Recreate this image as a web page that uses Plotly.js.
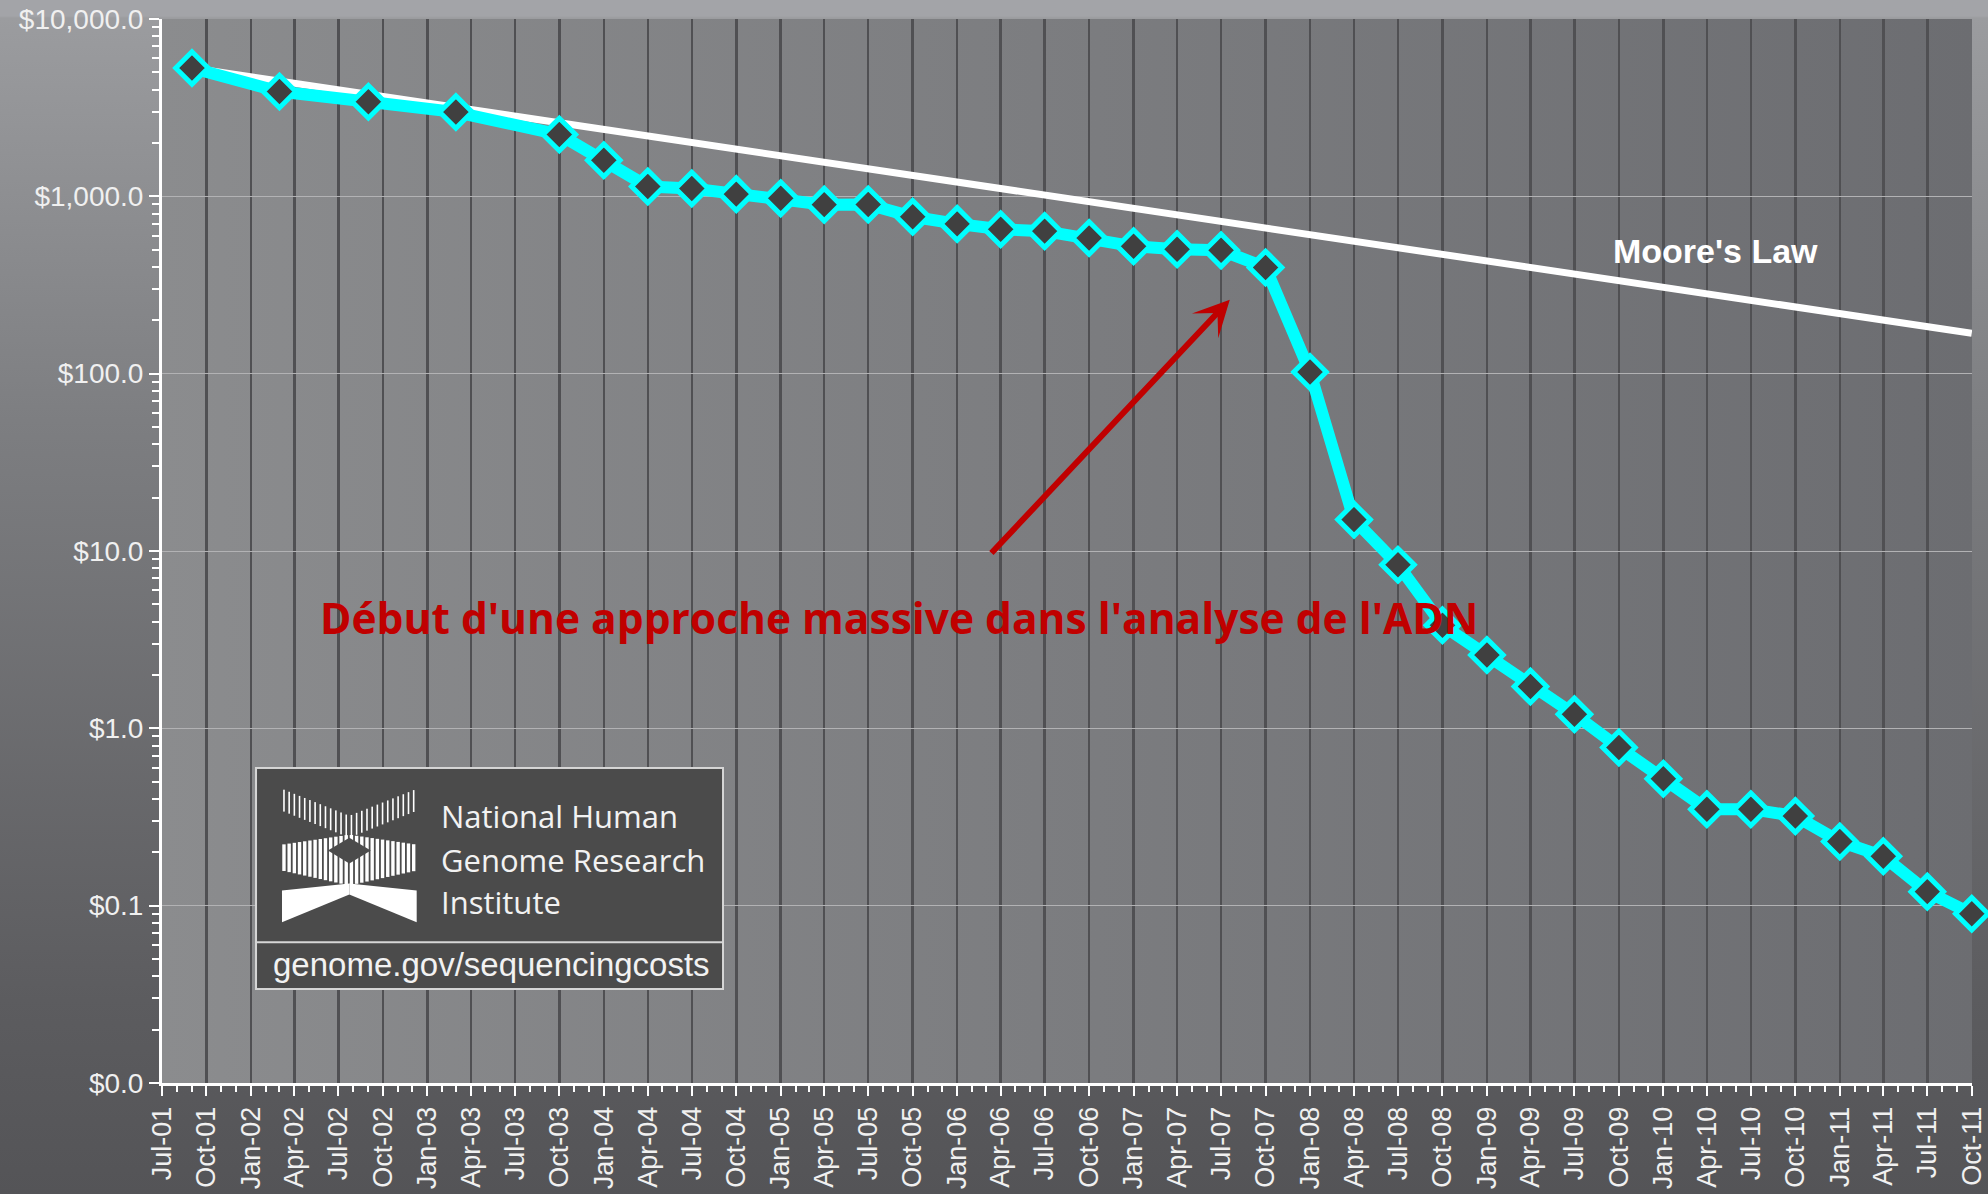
<!DOCTYPE html>
<html>
<head>
<meta charset="utf-8">
<script src="https://cdn.plot.ly/plotly-3.0.1.min.js"></script>
<style>
  html, body { margin: 0; padding: 0; }
  body {
    width: 1988px; height: 1194px; overflow: hidden;
    background: linear-gradient(180deg, #a3a4a8 0px, #a3a4a8 16px, #9b9c9f 18px, #7d7e81 420px, #5c5c5f 1000px, #545457 1194px);
  }
  #chart { width: 1988px; height: 1194px; }
</style>
</head>
<body>
<div id="chart"></div>
<script>
// ---- data ----
const dates = [
  '2001-09-01','2002-03-01','2002-09-01','2003-03-01','2003-10-01',
  '2004-01-01','2004-04-01','2004-07-01','2004-10-01',
  '2005-01-01','2005-04-01','2005-07-01','2005-10-01',
  '2006-01-01','2006-04-01','2006-07-01','2006-10-01',
  '2007-01-01','2007-04-01','2007-07-01','2007-10-01',
  '2008-01-01','2008-04-01','2008-07-01','2008-10-01',
  '2009-01-01','2009-04-01','2009-07-01','2009-10-01',
  '2010-01-01','2010-04-01','2010-07-01','2010-10-01',
  '2011-01-01','2011-04-01','2011-07-01','2011-10-01'
];
const costPerMb = [
  5292.39, 3898.64, 3413.80, 2986.20, 2230.98,
  1598.91, 1135.70, 1107.46, 1028.85,
  974.16, 897.76, 898.90, 766.73,
  699.20, 651.81, 636.41, 581.92,
  522.71, 502.61, 495.96, 397.09,
  102.13, 15.03, 8.36, 3.81,
  2.59, 1.72, 1.20, 0.78,
  0.52, 0.35, 0.35, 0.32,
  0.23, 0.19, 0.12, 0.09
];
const mooreDates = ['2001-09-01', '2011-10-01'];
const mooreValues = [5292.39, 169];

const yTickVals = [0.01, 0.1, 1, 10, 100, 1000, 10000];
const yTickText = ['$0.0', '$0.1', '$1.0', '$10.0', '$100.0', '$1,000.0', '$10,000.0'];

const annotationText = "Début d'une approche massive dans l'analyse de l'ADN";
const mooreLabel = "Moore's Law";
const logoLines = ['National Human', 'Genome Research', 'Institute'];
const logoUrl = 'genome.gov/sequencingcosts';

// ---- helpers (decoration only) ----
function svgURI(svg) { return 'data:image/svg+xml;charset=utf-8,' + encodeURIComponent(svg); }

const plotBg = svgURI(
  "<svg xmlns='http://www.w3.org/2000/svg' width='1810' height='1064' viewBox='0 0 1810 1064' preserveAspectRatio='none'>" +
  "<defs><linearGradient id='g' x1='0' x2='1' y1='0' y2='0'>" +
  "<stop offset='0' stop-color='#8b8c8e'/><stop offset='1' stop-color='#6c6d71'/></linearGradient></defs>" +
  "<rect x='0' y='0' width='1810' height='1064' fill='url(#g)'/></svg>");

function buildLogoBox() {
  // box 470 x 224 px, logo graphic 135 x 134 placed at (27, 22)
  let s = "<svg xmlns='http://www.w3.org/2000/svg' width='470' height='224' viewBox='0 0 470 224' preserveAspectRatio='none'>";
  s += "<rect x='1' y='1' width='468' height='222' fill='#4b4b4b' stroke='#d6d6d6' stroke-width='2'/>";
  s += "<line x1='1' x2='469' y1='176' y2='176' stroke='#d6d6d6' stroke-width='2'/>";
  s += "<g transform='translate(27,22)'>";
  for (let i = 0; i < 26; i++) {
    const x = 2 + i * 5.2;
    const d = Math.abs(x - 67.5) / 67.5;
    const t1 = 27 * (1 - d), b1 = t1 + 22;
    s += "<rect x='" + (x - 0.8).toFixed(2) + "' y='" + t1.toFixed(2) + "' width='1.6' height='" + (b1 - t1).toFixed(2) + "' fill='white'/>";
    const t2 = 56 - 10 * (1 - d), b2 = 82 + 15 * (1 - d);
    s += "<rect x='" + (x - 1.7).toFixed(2) + "' y='" + t2.toFixed(2) + "' width='3.4' height='" + (b2 - t2).toFixed(2) + "' fill='white'/>";
  }
  s += "<polygon points='46,62 67.5,49 89,62 67.5,75' fill='#4b4b4b'/>";
  s += "<polygon points='0,102 67.5,95 67.5,106 0,134' fill='white'/>";
  s += "<polygon points='135,102 67.5,95 67.5,106 135,134' fill='white'/>";
  s += "</g></svg>";
  return svgURI(s);
}

// minor log ticks (axis decoration)
const yMinor = [];
for (let e = -2; e < 4; e++) for (let m = 2; m <= 9; m++) yMinor.push(m * Math.pow(10, e));

const traces = [
  {
    x: mooreDates, y: mooreValues, type: 'scatter', mode: 'lines',
    line: { color: '#ffffff', width: 7 }, hoverinfo: 'skip', showlegend: false
  },
  {
    x: dates, y: costPerMb, type: 'scatter', mode: 'lines+markers',
    line: { color: '#00ffff', width: 12 },
    marker: { symbol: 'diamond', size: 25, color: '#404040', line: { color: '#00ffff', width: 5 } },
    cliponaxis: false, showlegend: false
  }
];

const axisFont = { family: 'Liberation Sans, Arial, sans-serif', color: '#f0f0f0' };

const layout = {
  width: 1988, height: 1194,
  margin: { l: 162, r: 16, t: 19, b: 111 },
  paper_bgcolor: 'rgba(0,0,0,0)',
  plot_bgcolor: 'rgba(0,0,0,0)',
  showlegend: false,
  xaxis: {
    type: 'date',
    range: ['2001-07-01', '2011-10-01 12:00'],
    tick0: '2001-07-01', dtick: 'M3', tickformat: '%b-%y', tickangle: -90,
    ticks: 'outside', ticklen: 10, tickwidth: 2, tickcolor: '#ffffff',
    showline: true, linecolor: '#ffffff', linewidth: 3,
    showgrid: true, gridcolor: '#505053', gridwidth: 2.5,
    zeroline: false,
    tickfont: Object.assign({ size: 27 }, axisFont),
    minor: { dtick: 'M1', tick0: '2001-07-01', ticks: 'outside', ticklen: 6, tickwidth: 2, tickcolor: '#ffffff', showgrid: false }
  },
  yaxis: {
    type: 'log', range: [-2, 4],
    tickmode: 'array', tickvals: yTickVals, ticktext: yTickText,
    ticks: 'outside', ticklen: 10, tickwidth: 2, tickcolor: '#ffffff',
    showline: true, linecolor: '#ffffff', linewidth: 3,
    showgrid: true, gridcolor: '#b2b2b4', gridwidth: 1,
    zeroline: false,
    tickfont: Object.assign({ size: 28 }, axisFont),
    minor: { tickmode: 'array', tickvals: yMinor, ticks: 'outside', ticklen: 7, tickwidth: 2, tickcolor: '#ffffff', showgrid: false }
  },
  images: [
    { source: plotBg, xref: 'paper', yref: 'paper', x: 0, y: 1, sizex: 1, sizey: 1,
      sizing: 'stretch', xanchor: 'left', yanchor: 'top', layer: 'below' },
    { source: buildLogoBox(), xref: 'paper', yref: 'paper', x: 0.0514, y: 0.2970, sizex: 0.2591, sizey: 0.2096,
      sizing: 'stretch', xanchor: 'left', yanchor: 'top', layer: 'above' }
  ],
  annotations: [
    { text: '', showarrow: true, xref: 'x', yref: 'y', axref: 'x', ayref: 'y',
      x: '2007-07-19', y: 2.417, ax: '2006-03-10', ay: 0.98,
      arrowhead: 3, arrowsize: 1, arrowwidth: 6, arrowcolor: '#c00000' },
    { text: '<b>' + annotationText + '</b>', showarrow: false, xref: 'paper', yref: 'paper',
      x: 0.0862, y: 0.4375, xanchor: 'left', yanchor: 'middle',
      font: { family: 'Open Sans, Noto Sans, sans-serif', size: 42.5, color: '#c00000' } },
    { text: '<b>' + mooreLabel + '</b>', showarrow: false, xref: 'paper', yref: 'paper',
      x: 0.8006, y: 0.7824, xanchor: 'left', yanchor: 'middle',
      font: { family: 'Liberation Sans, Arial, sans-serif', size: 34, color: '#ffffff' } },
    { text: logoLines[0], showarrow: false, xref: 'paper', yref: 'paper', x: 0.1530, y: 0.2510,
      xanchor: 'left', yanchor: 'middle', font: { family: 'Open Sans, sans-serif', size: 31, color: '#f2f2f2' } },
    { text: logoLines[1], showarrow: false, xref: 'paper', yref: 'paper', x: 0.1530, y: 0.2096,
      xanchor: 'left', yanchor: 'middle', font: { family: 'Open Sans, sans-serif', size: 31, color: '#f2f2f2' } },
    { text: logoLines[2], showarrow: false, xref: 'paper', yref: 'paper', x: 0.1530, y: 0.1701,
      xanchor: 'left', yanchor: 'middle', font: { family: 'Open Sans, sans-serif', size: 31, color: '#f2f2f2' } },
    { text: logoUrl, showarrow: false, xref: 'paper', yref: 'paper', x: 0.1820, y: 0.1118,
      xanchor: 'center', yanchor: 'middle', font: { family: 'Liberation Sans, Arial, sans-serif', size: 33, color: '#f2f2f2' } }
  ]
};

Plotly.newPlot('chart', traces, layout, { staticPlot: true, displayModeBar: false });
</script>
</body>
</html>
